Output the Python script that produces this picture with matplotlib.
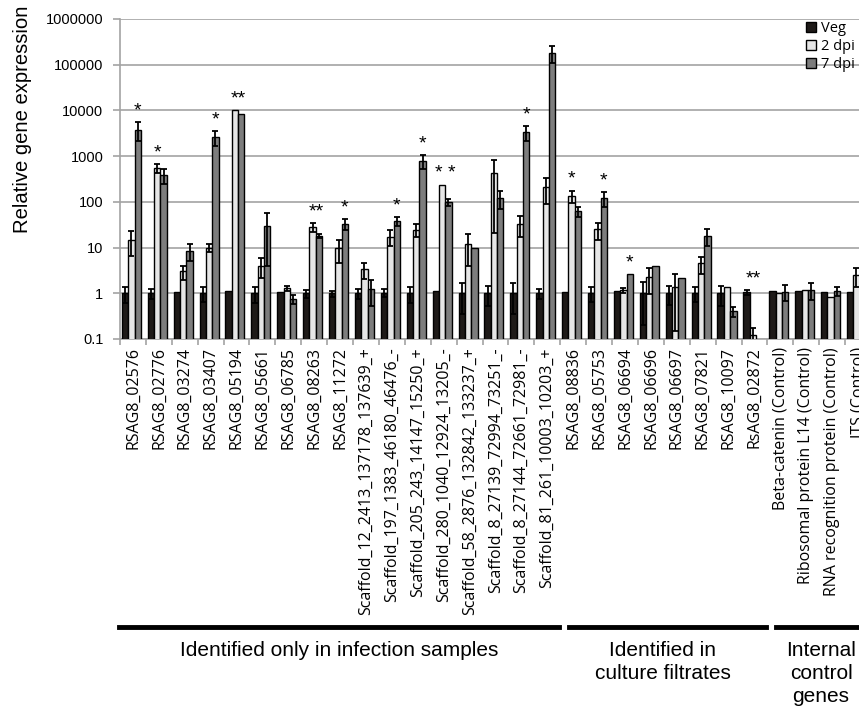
import numpy as np
import matplotlib.pyplot as plt
from matplotlib.lines import Line2D
from matplotlib.patches import Patch
import matplotlib.transforms as mtransforms

# gene names on the x axis
genes = [
    "RSAG8_02576", "RSAG8_02776", "RSAG8_03274", "RSAG8_03407", "RSAG8_05194",
    "RSAG8_05661", "RSAG8_06785", "RSAG8_08263", "RSAG8_11272",
    "Scaffold_12_2413_137178_137639_+", "Scaffold_197_1383_46180_46476_-",
    "Scaffold_205_243_14147_15250_+", "Scaffold_280_1040_12924_13205_-",
    "Scaffold_58_2876_132842_133237_+", "Scaffold_8_27139_72994_73251_-",
    "Scaffold_8_27144_72661_72981_-", "Scaffold_81_261_10003_10203_+",
    "RSAG8_08836", "RSAG8_05753", "RSAG8_06694", "RSAG8_06696", "RSAG8_06697",
    "RSAG8_07821", "RSAG8_10097", "RsAG8_02872",
    "Beta-catenin (Control)", "Ribosomal protein L14 (Control)",
    "RNA recognition protein (Control)", "ITS (Control)",
]

veg = [1.0, 1.0, 1.05, 1.0, 1.12, 1.0, 1.09, 1.0, 1.0, 1.0, 1.02, 1.0, 1.12, 1.0, 1.0,
       1.0, 1.0, 1.08, 1.0, 1.12, 1.0, 1.0, 1.0, 1.0, 1.05, 1.12, 1.12, 1.05, 1.05]
veg_err = [0.4, 0.25, 0, 0.35, 0, 0.4, 0, 0.2, 0.15, 0.25, 0.2, 0.4, 0, 0.65, 0.47,
           0.65, 0.25, 0, 0.35, 0, 0.8, 0.45, 0.35, 0.47, 0.13, 0, 0, 0, 0]

dpi2 = [14.7, 550, 3.0, 10, 10200, 4.0, 1.29, 28, 9.7, 3.4, 17.4, 24.4, 235, 12, 425,
        33, 216, 135, 25, 1.18, 2.24, 1.4, 4.5, 1.35, 0.12, 1.0, 1.18, 0.85, 2.5]
dpi2_err = [8, 120, 1.0, 2, 0, 1.8, 0.18, 6, 5, 1.3, 6.6, 7.6, 0, 8, 405, 16, 124, 42,
            10, 0.15, 1.26, 1.25, 1.8, 0, 0.05, 0, 0, 0, 1.1]

dpi7 = [3800, 390, 8.6, 2560, 8400, 30, 0.75, 18.3, 33, 1.24, 38, 800, 98, 9.7, 124,
        3380, 181000, 63, 120, 2.65, 4.0, 2.13, 18.3, 0.40, 0.05, 1.09, 1.18, 1.12, 1.2]
dpi7_err = [1700, 140, 3.4, 910, 0, 26, 0.17, 1.7, 9, 0.72, 8, 270, 17, 0, 53, 1220,
            71000, 16, 43, 0, 0, 0, 7.3, 0.09, 0, 0.41, 0.47, 0.23, 0]

# significance marks: (gene index, text, bar it sits over: 0 veg, 1 2dpi, 2 7dpi)
stars = [(0, "*", 2), (1, "*", 1), (3, "*", 2), (4, "**", 1.5), (7, "**", 1.5),
         (8, "*", 2), (10, "*", 2), (11, "*", 2), (12, "* *", 1.5), (15, "*", 2),
         (17, "*", 1), (18, "*", 2), (19, "*", 2), (24, "**", 1)]

groups = ["Identified only in infection samples", "Identified in\nculture filtrates",
          "Internal\ncontrol\ngenes"]
group_sizes = [17, 8, 4]

series = [("Veg", veg, veg_err, "#1e1a18"),
          ("2 dpi", dpi2, dpi2_err, "#e6e6e6"),
          ("7 dpi", dpi7, dpi7_err, "#7d7d7d")]

W, H = 859, 711
fig = plt.figure(figsize=(W / 100, H / 100), dpi=100)
ax = fig.add_axes([120 / W, 1 - 339 / H, 751 / W, 320 / H])

x = np.arange(len(genes))
bw = 0.245
offs = [-bw - 0.06, -0.06, bw - 0.06]
for (name, vals, errs, col), off in zip(series, offs):
    vals = np.array(vals)
    errs = np.array(errs)
    ax.bar(x + off, vals, bw, color=col, edgecolor="black", linewidth=1.0, zorder=3)
    m = errs > 0
    lower = np.minimum(errs, vals * 0.95)
    ax.errorbar(x[m] + off, vals[m], yerr=[lower[m], errs[m]], fmt="none",
                ecolor="black", elinewidth=1.3, capsize=2.5, capthick=1.3, zorder=4)

ax.set_yscale("log")
ax.set_ylim(0.1, 1e6)
ax.set_xlim(-0.5, len(genes) - 0.5)
yt = [0.1, 1, 10, 100, 1000, 10000, 100000, 1000000]
ax.set_yticks(yt)
ax.set_yticklabels(["0.1", "1", "10", "100", "1000", "10000", "100000", "1000000"],
                   fontsize=10.5, family="Liberation Sans")
ax.minorticks_off()
ax.yaxis.grid(True, color="#a3a3a3", linewidth=1.2, zorder=0)
ax.set_axisbelow(True)
ax.tick_params(axis="y", length=5, color="#a3a3a3", width=1.2, pad=7)

ax.set_xticks(x)
ax.set_xticklabels(genes, rotation=90, fontsize=11.5, family="Open Sans")
ax.tick_params(axis="x", length=0, pad=6)
ax.set_xticks(np.arange(-0.5, len(genes)), minor=True)
ax.tick_params(axis="x", which="minor", length=4, color="#a3a3a3", width=1.2)

for s in ["top", "right"]:
    ax.spines[s].set_visible(False)
for s in ["left", "bottom"]:
    ax.spines[s].set_color("#a3a3a3")
    ax.spines[s].set_linewidth(1.2)

ax.set_ylabel("Relative gene expression", fontsize=14.6, family="Liberation Sans")
ax.yaxis.set_label_coords(-88 / 751, 0.6875)

# stars above the bars
for i, txt, b in stars:
    tops = [series[k][1][i] + series[k][2][i] for k in range(3)]
    xs = x[i] + offs[0] + b * bw
    ax.annotate(txt, (xs, max(tops)), xytext=(0, 2), textcoords="offset points",
                ha="center", va="bottom", fontsize=14, family="Liberation Sans")

# group brackets below the tick labels
trans = mtransforms.blended_transform_factory(ax.transData, fig.transFigure)
start = 0
for gname, n in zip(groups, group_sizes):
    x0 = start - 0.15 if start > 0 else -0.55
    x1 = start + n - 1 + 0.45 if start + n < len(genes) else start + n + 1
    fig.add_artist(Line2D([x0, x1], [1 - 627 / H] * 2, color="black", linewidth=3.5,
                          transform=trans, clip_on=False))
    cx = (start - 0.5 + start + n - 1 + 0.4) / 2 if start + n < len(genes) else 26.57
    fig.text(cx, 1 - 641 / H, gname, transform=trans, ha="center", va="top",
             fontsize=15, family="Liberation Sans", linespacing=1.25)
    start += n

handles = [Patch(facecolor=c, edgecolor="black", label=n) for n, _, _, c in series]
fig.legend(handles=handles, loc="upper left", bbox_to_anchor=(806 / W, 1 - 21 / H),
           frameon=False, prop={"family": "Open Sans", "size": 10.5},
           handlelength=0.7, handleheight=0.7, handletextpad=0.3, labelspacing=0.2,
           borderaxespad=0, borderpad=0)

fig.savefig("out.png", dpi=100)
